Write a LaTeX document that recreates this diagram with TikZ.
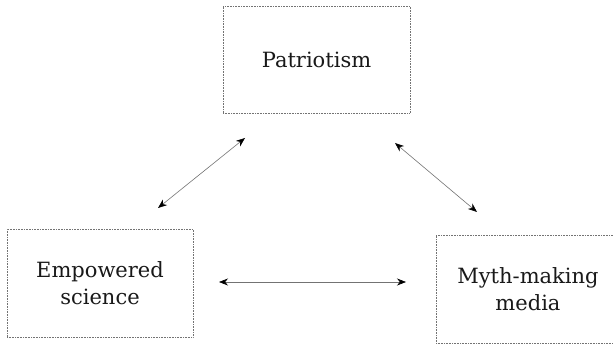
\documentclass[tikz,border=0pt]{standalone}
\usepackage{fontspec}
\setmainfont{DejaVu Serif}
\usetikzlibrary{arrows.meta}
\begin{document}
\begin{tikzpicture}[x=1pt,y=-1pt,
  boxnode/.style={draw=black!55, densely dotted, line width=0.6pt, inner sep=0pt,
    align=center, font=\fontsize{21}{27}\selectfont, text=black!90},
  link/.style={draw=black!55, line width=0.6pt,
    {Stealth[length=9pt,width=7pt,color=black]}-{Stealth[length=9pt,width=7pt,color=black]}}]
\useasboundingbox (0,0) rectangle (613,344);
\node[boxnode, minimum width=187pt, minimum height=107pt] (pat) at (316.5,59.5) {Patriotism};
\node[boxnode, minimum width=186pt, minimum height=108pt] (emp) at (100,283) {Empowered\\science};
\node[boxnode, minimum width=184pt, minimum height=108pt] (myth) at (528,289) {Myth-making\\media};
\coordinate (a1) at (158,208);
\coordinate (a2) at (245,138);
\coordinate (b1) at (395,143);
\coordinate (b2) at (477,212);
\coordinate (c1) at (219,282);
\coordinate (c2) at (406,282);
\draw[link] (a1) -- (a2);
\draw[link] (b1) -- (b2);
\draw[link] (c1) -- (c2);
\end{tikzpicture}
\end{document}
